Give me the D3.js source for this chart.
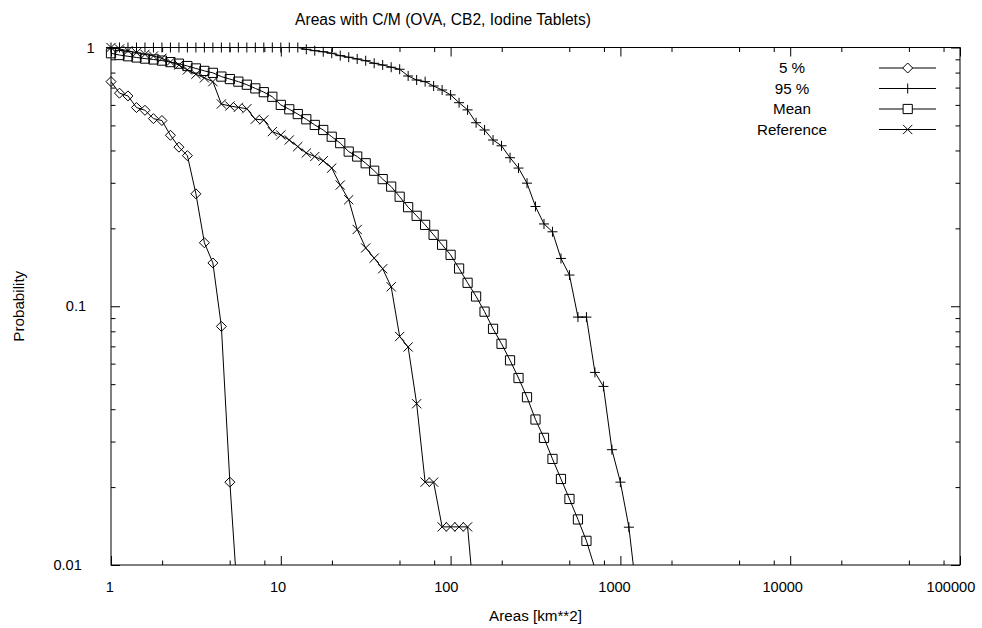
<!DOCTYPE html>
<html>
<head>
<meta charset="utf-8">
<script src="https://cdnjs.cloudflare.com/ajax/libs/d3/7.8.5/d3.min.js"></script>
<style>
    body { margin: 0; background: #fff; }
    text { font-family: "Liberation Sans", Arial, Helvetica, sans-serif; font-size: 15.2px; fill: #000; }
</style>
</head>
<body>
<div id="graph"></div>
<script>
// area bins (km**2), shared by all series
var areas = [1, 1.122, 1.259, 1.413, 1.585, 1.778, 1.995, 2.239, 2.512, 2.818,
    3.162, 3.548, 3.981, 4.467, 5.012, 5.623, 6.310, 7.079, 7.943, 8.913,
    10, 11.22, 12.59, 14.13, 15.85, 17.78, 19.95, 22.39, 25.12, 28.18,
    31.62, 35.48, 39.81, 44.67, 50.12, 56.23, 63.10, 70.79, 79.43, 89.13,
    100, 112.2, 125.9, 141.3, 158.5, 177.8, 199.5, 223.9, 251.2, 281.8,
    316.2, 354.8, 398.1, 446.7, 501.2, 562.3, 631.0, 707.9, 794.3, 891.3,
    1000, 1122, 1259];

// probabilities, one per bin starting at the first bin
var p5 = [0.738, 0.666, 0.650, 0.586, 0.572, 0.531, 0.522, 0.458, 0.412, 0.382,
    0.272, 0.176, 0.147, 0.0836, 0.0209, 0.0067];

var p95 = [1, 1, 1, 1, 1, 1, 1, 1, 1, 1,
    1, 1, 1, 1, 1, 1, 1, 1, 1, 1,
    1, 1, 1, 0.984, 0.972, 0.963, 0.950, 0.930, 0.917, 0.903,
    0.889, 0.869, 0.856, 0.839, 0.824, 0.776, 0.749, 0.738, 0.710, 0.685,
    0.656, 0.612, 0.574, 0.512, 0.480, 0.439, 0.417, 0.375, 0.342, 0.299,
    0.243, 0.208, 0.194, 0.153, 0.132, 0.0908, 0.0908, 0.0555, 0.0490, 0.0279,
    0.0209, 0.0140, 0.0073];

var pMean = [0.950, 0.935, 0.925, 0.915, 0.906, 0.899, 0.890, 0.878, 0.866, 0.848,
    0.830, 0.812, 0.798, 0.772, 0.755, 0.738, 0.718, 0.695, 0.672, 0.645,
    0.600, 0.577, 0.553, 0.528, 0.502, 0.480, 0.452, 0.427, 0.396, 0.379,
    0.357, 0.334, 0.310, 0.290, 0.265, 0.2415, 0.2236, 0.2063, 0.1888, 0.1728,
    0.1580, 0.1399, 0.1232, 0.1091, 0.0953, 0.0818, 0.0716, 0.0618, 0.0528, 0.0445,
    0.0365, 0.0310, 0.0257, 0.0215, 0.0180, 0.0150, 0.0124, 0.0097];

var pRef = [1, 0.987, 0.972, 0.955, 0.941, 0.927, 0.908, 0.879, 0.856, 0.819,
    0.788, 0.763, 0.738, 0.605, 0.594, 0.587, 0.580, 0.528, 0.525, 0.473,
    0.459, 0.439, 0.414, 0.391, 0.379, 0.365, 0.342, 0.294, 0.258, 0.198,
    0.168, 0.1535, 0.1396, 0.1189, 0.0764, 0.0696, 0.0420, 0.0209, 0.0209, 0.01404,
    0.01404, 0.01404, 0.01404, 0.006];

var seriesNames = ["5 %", "95 %", "Mean", "Reference"];
var xTicks = [1, 10, 100, 1000, 10000, 100000];
var yTicks = [0.01, 0.1, 1];
var xTickLabels = ["1", "10", "100", "1000", "10000", "100000"];
var yTickLabels = ["0.01", "0.1", "1"];

// marker shapes, gnuplot style
var markers = {
    diamond: function(r) { return "M0," + (-r) + "L" + r + ",0L0," + r + "L" + (-r) + ",0Z"; },
    plus: function(r) { return "M" + (-r) + ",0H" + r + "M0," + (-r) + "V" + r; },
    square: function(r) { return "M" + (-r) + "," + (-r) + "H" + r + "V" + r + "H" + (-r) + "Z"; },
    cross: function(r) { return "M" + (-r) + "," + (-r) + "L" + r + "," + r + "M" + (-r) + "," + r + "L" + r + "," + (-r); }
};

var series = [
    {name: seriesNames[0], values: p5, marker: "diamond", r: 5},
    {name: seriesNames[1], values: p95, marker: "plus", r: 5},
    {name: seriesNames[2], values: pMean, marker: "square", r: 4.6},
    {name: seriesNames[3], values: pRef, marker: "cross", r: 4.6}
];

var svg = d3.select("#graph").append("svg")
    .attr("width", 982)
    .attr("height", 628);

var margin = {top: 47.5, right: 22, bottom: 63, left: 111},
    width = 982 - margin.left - margin.right,
    height = 628 - margin.top - margin.bottom;

var g = svg.append("g")
    .attr("transform", "translate(" + margin.left + "," + margin.top + ")");

var x = d3.scaleLog().domain([1, 100000]).range([0, width]);
var y = d3.scaleLog().domain([0.01, 1]).range([height, 0]);

// minor ticks: x at 2,5,8 per decade, y at 2..9
var xMinor = [], yMinor = [];
for (var d = 1; d < 100000; d *= 10) {
    [2, 5, 8].forEach(function(m) { xMinor.push(d * m); });
}
[0.01, 0.1].forEach(function(d) {
    for (var m = 2; m < 10; m++) yMinor.push(d * m);
});

function styleAxis(sel) {
    sel.select(".domain").remove();
    sel.selectAll("line").attr("stroke", "#000").attr("stroke-width", 1);
}

// bottom and top
g.append("g").attr("transform", "translate(0," + height + ")")
    .call(d3.axisBottom(x).tickValues(xTicks).tickSize(-9).tickPadding(16.7)
        .tickFormat(function(d, i) { return xTickLabels[i]; }))
    .call(styleAxis)
    .selectAll("text")
    .attr("fill", "#000")
    .attr("dx", function(d, i) { return -1.6 * xTickLabels[i].length; })
    .style("font-size", "14.6px");
g.append("g").attr("transform", "translate(0," + height + ")")
    .call(d3.axisBottom(x).tickValues(xMinor).tickSize(-4.5).tickFormat(""))
    .call(styleAxis);
g.append("g")
    .call(d3.axisTop(x).tickValues(xTicks).tickSize(-9).tickFormat(""))
    .call(styleAxis);
g.append("g")
    .call(d3.axisTop(x).tickValues(xMinor).tickSize(-4.5).tickFormat(""))
    .call(styleAxis);

// left and right
g.append("g")
    .call(d3.axisLeft(y).tickValues(yTicks).tickSize(-9).tickPadding(29.3)
        .tickFormat(function(d, i) { return yTickLabels[i]; }))
    .call(styleAxis)
    .selectAll("text")
    .attr("fill", "#000")
    .attr("dx", function(d, i) { return 17.3 - 4.3 * yTickLabels[i].length; })
    .style("font-size", "14.6px");
g.append("g")
    .call(d3.axisLeft(y).tickValues(yMinor).tickSize(-4.5).tickFormat(""))
    .call(styleAxis);
g.append("g").attr("transform", "translate(" + width + ",0)")
    .call(d3.axisRight(y).tickValues(yTicks).tickSize(-9).tickFormat(""))
    .call(styleAxis);
g.append("g").attr("transform", "translate(" + width + ",0)")
    .call(d3.axisRight(y).tickValues(yMinor).tickSize(-4.5).tickFormat(""))
    .call(styleAxis);

// border
g.append("rect")
    .attr("width", width)
    .attr("height", height)
    .attr("fill", "none")
    .attr("stroke", "#000")
    .attr("stroke-width", 1);

g.append("clipPath").attr("id", "plotclip")
    .append("rect").attr("width", width).attr("height", height);

var line = d3.line()
    .x(function(d, i) { return x(areas[i]); })
    .y(function(d) { return y(d); });

series.forEach(function(s) {
    g.append("path")
        .datum(s.values)
        .attr("clip-path", "url(#plotclip)")
        .attr("fill", "none")
        .attr("stroke", "#000")
        .attr("stroke-width", 1)
        .attr("d", line);

    var pts = s.values.map(function(v, i) { return {a: areas[i], p: v}; })
        .filter(function(d) { return d.p >= 0.01; });

    g.selectAll(null)
        .data(pts)
        .enter().append("path")
        .attr("transform", function(d) { return "translate(" + x(d.a) + "," + y(d.p) + ")"; })
        .attr("d", markers[s.marker](s.r))
        .attr("fill", "none")
        .attr("stroke", "#000")
        .attr("stroke-width", 1);
});

// legend
var legend = svg.append("g");
series.forEach(function(s, i) {
    var ly = 68 + i * 20.5;
    legend.append("text")
        .attr("x", 792)
        .attr("y", ly + 5.3)
        .attr("text-anchor", "middle")
        .text(s.name);
    legend.append("line")
        .attr("x1", 879).attr("x2", 936)
        .attr("y1", ly).attr("y2", ly)
        .attr("stroke", "#000");
    legend.append("path")
        .attr("transform", "translate(907.7," + ly + ")")
        .attr("d", markers[s.marker](s.r))
        .attr("fill", s.marker === "diamond" || s.marker === "square" ? "#fff" : "none")
        .attr("stroke", "#000");
});

// titles
svg.append("text")
    .attr("x", 443)
    .attr("y", 24.5)
    .attr("text-anchor", "middle")
    .style("font-size", "15.6px")
    .text("Areas with C/M (OVA, CB2, Iodine Tablets)");

svg.append("text")
    .attr("x", margin.left + width / 2)
    .attr("y", 621)
    .attr("text-anchor", "middle")
    .text("Areas [km**2]");

svg.append("text")
    .attr("transform", "translate(24," + (margin.top + height / 2) + ") rotate(-90)")
    .attr("text-anchor", "middle")
    .text("Probability");
</script>
</body>
</html>
